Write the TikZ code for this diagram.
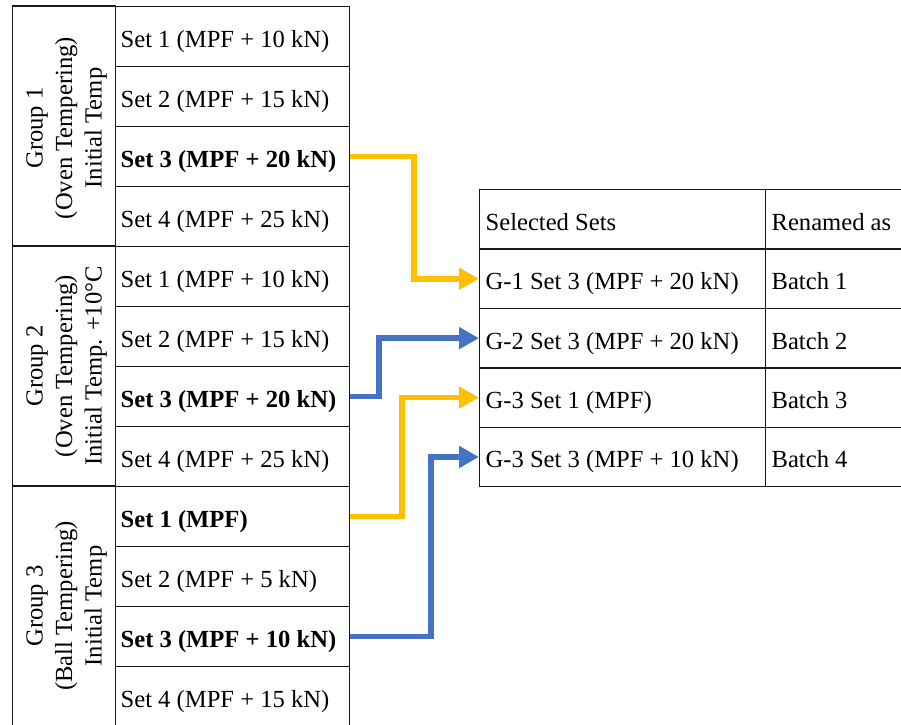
\documentclass[tikz,border=0pt]{standalone}
\usepackage{fontspec}
\setmainfont{Liberation Serif}
\usetikzlibrary{arrows.meta,calc}
\definecolor{amber}{HTML}{FFC000}
\definecolor{steel}{HTML}{4472C4}
\definecolor{rule}{HTML}{1A1A1A}
% left-aligned cell text that never wraps
\newcommand\celltext[2]{\makebox[#1][l]{#2}}
\begin{document}
\begin{tikzpicture}[x=1pt,y=-1pt,
  every node/.style={font=\fontsize{24.6}{29.5}\selectfont},
  box/.style={draw=rule, line width=1.3pt, inner sep=0pt},
  rowtext/.style={text height=28pt, text depth=6pt},
  setcell/.style={box, rowtext, anchor=north west, minimum width=234pt, minimum height=60pt},
  grpcell/.style={box, minimum width=103pt, minimum height=240pt},
  grplabel/.style={rotate=90, align=center},
  selcell/.style={box, rowtext, anchor=north west, minimum width=286pt, minimum height=59.4pt},
  rencell/.style={box, rowtext, anchor=north west, minimum width=140pt, minimum height=59.4pt},
  link/.style={line width=5.5pt, -{Triangle[length=20pt,width=21pt]}}
]
\useasboundingbox (0,0) rectangle (901,724);

% Group 1
\node[grpcell] (grp1) at (64,126) {};
\node[grplabel] (grp1lbl) at (66.5,128) {Group 1\\(Oven Tempering)\\Initial Temp};
\node[setcell] (g1s1) at (115,6)   {\celltext{224pt}{Set 1 (MPF + 10 kN)}};
\node[setcell] (g1s2) at (115,66)  {\celltext{224pt}{Set 2 (MPF + 15 kN)}};
\node[setcell] (g1s3) at (115,126) {\celltext{224pt}{\textbf{Set 3 (MPF + 20 kN)}}};
\node[setcell] (g1s4) at (115,186) {\celltext{224pt}{Set 4 (MPF + 25 kN)}};

% Group 2
\node[grpcell] (grp2) at (64,366) {};
\node[grplabel] (grp2lbl) at (66.5,366) {Group 2\\(Oven Tempering)\\Initial Temp. +10°C};
\node[setcell] (g2s1) at (115,246) {\celltext{224pt}{Set 1 (MPF + 10 kN)}};
\node[setcell] (g2s2) at (115,306) {\celltext{224pt}{Set 2 (MPF + 15 kN)}};
\node[setcell] (g2s3) at (115,366) {\celltext{224pt}{\textbf{Set 3 (MPF + 20 kN)}}};
\node[setcell] (g2s4) at (115,426) {\celltext{224pt}{Set 4 (MPF + 25 kN)}};

% Group 3
\node[grpcell] (grp3) at (64,606) {};
\node[grplabel] (grp3lbl) at (66.5,606) {Group 3\\(Ball Tempering)\\Initial Temp};
\node[setcell] (g3s1) at (115,486) {\celltext{224pt}{\textbf{Set 1 (MPF)}}};
\node[setcell] (g3s2) at (115,546) {\celltext{224pt}{Set 2 (MPF + 5 kN)}};
\node[setcell] (g3s3) at (115,606) {\celltext{224pt}{\textbf{Set 3 (MPF + 10 kN)}}};
\node[setcell] (g3s4) at (115,666) {\celltext{224pt}{Set 4 (MPF + 15 kN)}};

% Selected sets and their new names
\node[selcell] (selh) at (479,189)   {\celltext{274pt}{Selected Sets}};
\node[rencell] (renh) at (765,189)   {\celltext{128pt}{Renamed as}};
\node[selcell] (sel1) at (479,248.4) {\celltext{274pt}{G-1 Set 3 (MPF + 20 kN)}};
\node[rencell] (ren1) at (765,248.4) {\celltext{128pt}{Batch 1}};
\node[selcell] (sel2) at (479,307.8) {\celltext{274pt}{G-2 Set 3 (MPF + 20 kN)}};
\node[rencell] (ren2) at (765,307.8) {\celltext{128pt}{Batch 2}};
\node[selcell] (sel3) at (479,367.2) {\celltext{274pt}{G-3 Set 1 (MPF)}};
\node[rencell] (ren3) at (765,367.2) {\celltext{128pt}{Batch 3}};
\node[selcell] (sel4) at (479,426.6) {\celltext{274pt}{G-3 Set 3 (MPF + 10 kN)}};
\node[rencell] (ren4) at (765,426.6) {\celltext{128pt}{Batch 4}};

% Connectors from the chosen sets
\draw[link, amber] (g1s3.east) -| ($(sel1.west)+(-65,0)$) -- (sel1.west);
\draw[link, steel] (g2s3.east) -| ($(sel2.west)+(-100,0)$) -- (sel2.west);
\draw[link, amber] (g3s1.east) -| ($(sel3.west)+(-77,0)$) -- (sel3.west);
\draw[link, steel] (g3s3.east) -| ($(sel4.west)+(-48,0)$) -- (sel4.west);
\end{tikzpicture}
\end{document}
